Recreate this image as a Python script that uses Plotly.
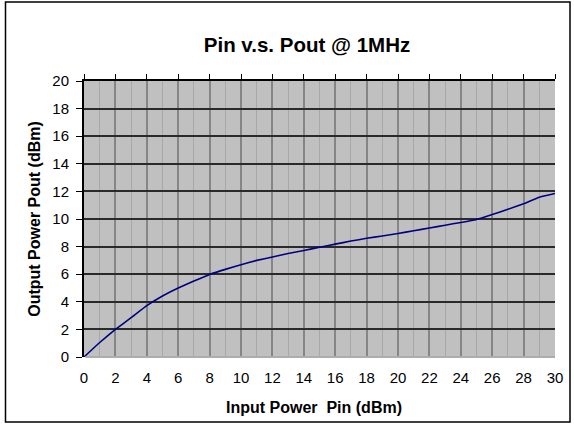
import plotly.graph_objects as go

# Data
pin_dbm = list(range(0, 31))
pout_dbm = [0.0, 1.05, 2.0, 2.85, 3.72, 4.42, 5.0, 5.5, 5.98, 6.35, 6.68,
            7.0, 7.25, 7.5, 7.72, 7.95, 8.18, 8.4, 8.6, 8.77, 8.95,
            9.15, 9.35, 9.55, 9.75, 9.97, 10.33, 10.7, 11.1, 11.58, 11.85]

title_text = "Pin v.s. Pout @ 1MHz"
x_title = "Input Power  Pin (dBm)"
y_title = "Output Power Pout (dBm)"
x_ticks = list(range(0, 31, 2))
y_ticks = list(range(0, 21, 2))

W, H = 574, 426
L, R, T, B = 84, 19, 81, 69
PW, PH = W - L - R, H - T - B

def px(x):
    return (x - L) / PW

def py(y):
    return (H - B - y) / PH

FONT = "Liberation Sans, Arial, sans-serif"

fig = go.Figure()
fig.add_trace(go.Scatter(
    x=pin_dbm, y=pout_dbm, mode="lines",
    line=dict(color="#000080", width=1.6, shape="spline", smoothing=0.25),
    showlegend=False, hoverinfo="skip",
))
# invisible trace to activate the top axis
fig.add_trace(go.Scatter(x=[0, 30], y=[0, 0], xaxis="x2", mode="lines",
                         line=dict(width=0), showlegend=False, hoverinfo="skip"))

fig.update_layout(
    width=W, height=H,
    margin=dict(l=L, r=R, t=T, b=B),
    paper_bgcolor="white",
    plot_bgcolor="#C0C0C0",
    font=dict(family=FONT, color="black", size=15),
    title=dict(text="<b>" + title_text + "</b>", x=307 / W, xanchor="center",
               y=1 - 45 / H, yanchor="middle", font=dict(size=20.5, family=FONT)),
    xaxis=dict(
        range=[0, 30], tickmode="array", tickvals=x_ticks,
        ticktext=[str(v) for v in x_ticks],
        showgrid=True, gridcolor="#858585", gridwidth=1.5,
        minor=dict(dtick=1, showgrid=True, gridcolor="#A8A8A8", gridwidth=1),
        zeroline=False, showline=False, ticks="", ticklabelstandoff=10,
        tickfont=dict(size=15),
    ),
    xaxis2=dict(
        range=[0, 30], overlaying="x", side="top", tickmode="array",
        tickvals=x_ticks, showticklabels=False, ticks="outside", ticklen=5,
        tickcolor="black", tickwidth=1, showline=True, linecolor="black",
        linewidth=2, showgrid=False, zeroline=False,
    ),
    yaxis=dict(
        range=[0, 20], tickmode="array", tickvals=y_ticks,
        ticktext=[str(v) for v in y_ticks],
        showgrid=True, gridcolor="#2A2A2A", gridwidth=1.6,
        zeroline=False, showline=True, linecolor="black", linewidth=2,
        ticks="outside", ticklen=6, tickcolor="black", tickwidth=1,
        ticklabelstandoff=4, tickfont=dict(size=15),
        title=dict(text="<b>" + y_title + "</b>", font=dict(size=16), standoff=8),
    ),
    annotations=[
        dict(text="<b>" + x_title + "</b>", xref="paper", yref="paper",
             x=px(314), y=py(407), xanchor="center", yanchor="middle",
             showarrow=False, font=dict(size=16, family=FONT)),
    ],
    shapes=[
        dict(type="line", xref="paper", yref="paper", x0=0.003, x1=1, y0=0, y1=0,
             line=dict(color="#ADADAD", width=2), layer="above"),
        dict(type="rect", xref="paper", yref="paper",
             x0=px(5.5), x1=px(570), y0=py(2), y1=py(422),
             line=dict(color="black", width=1.5), layer="below"),
    ],
)

fig.write_html("out.html", config={"displayModeBar": False},
               post_script="document.body.style.margin='0';document.body.style.overflow='hidden';")
